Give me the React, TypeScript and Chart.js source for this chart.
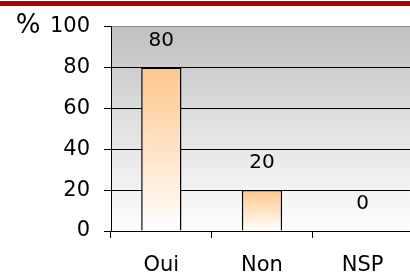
import React, { useEffect, useRef } from "react";
import { Chart, registerables } from "chart.js";
Chart.register(...registerables);

const categories = ["Oui", "Non", "NSP"];
const values = [80, 20, 0];
const yTicks = [0, 20, 40, 60, 80, 100];
const unitLabel = "%";

const FONT = "'DejaVu Sans', sans-serif";

export default function App() {
  const ref = useRef<HTMLCanvasElement>(null);
  useEffect(() => {
    document.body.style.margin = "0";
    document.body.style.overflow = "hidden";
    const canvas = ref.current!;
    const decor = {
      id: "decor",
      beforeDraw(chart: any) {
        const { ctx, chartArea: a } = chart;
        ctx.save();
        ctx.fillStyle = "#fff";
        ctx.fillRect(0, 0, chart.width, chart.height);
        const g = ctx.createLinearGradient(0, a.top, 0, a.bottom);
        g.addColorStop(0, "#c0c0c0");
        g.addColorStop(0.5, "#e2e2e2");
        g.addColorStop(1, "#fdfdfd");
        ctx.fillStyle = g;
        ctx.fillRect(a.left, a.top, chart.width - a.left, a.bottom - a.top);
        ctx.fillStyle = "#b00000";
        ctx.fillRect(0, 1, chart.width, 5);
        ctx.restore();
      },
      afterDraw(chart: any) {
        const { ctx } = chart;
        ctx.save();
        ctx.fillStyle = "#000";
        ctx.textAlign = "center";
        ctx.textBaseline = "middle";
        ctx.font = `26px ${FONT}`;
        ctx.fillText(unitLabel, 28, 26);
        ctx.font = `20px ${FONT}`;
        const meta = chart.getDatasetMeta(0);
        meta.data.forEach((el: any, i: number) => {
          ctx.fillText(String(values[i]), el.x, el.y - 27);
        });
        ctx.restore();
      },
    };
    const chart = new Chart(canvas, {
      type: "bar",
      data: {
        labels: categories,
        datasets: [
          {
            data: values,
            borderColor: "#000",
            borderWidth: 1.5,
            barPercentage: 0.4,
            categoryPercentage: 1,
            backgroundColor: (c: any) => {
              const ch = c.chart;
              const y = ch.scales && ch.scales.y;
              if (!ch.chartArea || !y || c.raw === undefined) return "#ffc990";
              const top = y.getPixelForValue(c.raw);
              const bot = y.getPixelForValue(0);
              if (bot - top < 1) return "#ffffff";
              const g = ch.ctx.createLinearGradient(0, top, 0, bot);
              g.addColorStop(0, "#ffc78c");
              g.addColorStop(1, "#ffffff");
              return g;
            },
          },
        ],
      },
      options: {
        responsive: false,
        devicePixelRatio: 1,
        animation: false,
        layout: { padding: { top: 25, right: 7, left: 0, bottom: 0 } },
        plugins: { legend: { display: false }, tooltip: { enabled: false } },
        scales: {
          x: {
            grid: { drawOnChartArea: false, tickLength: 7, color: "#000", offset: true },
            border: { color: "#000", width: 1 },
            ticks: { font: { family: FONT, size: 21 }, color: "#000", padding: 15 },
            afterFit: (s: any) => {
              s.height = 44;
            },
          },
          y: {
            min: 0,
            max: 100,
            afterBuildTicks: (s: any) => {
              s.ticks = yTicks.map((v) => ({ value: v }));
            },
            ticks: { font: { family: FONT, size: 21 }, color: "#000", padding: 14 },
            grid: {
              color: (c: any) => (c.tick && c.tick.value === 100 ? "#8c8c8c" : "#000"),
              tickColor: "#000",
              tickLength: 7,
              lineWidth: 1,
            },
            border: { color: "#000", width: 1 },
            afterFit: (s: any) => {
              s.width = 111;
            },
          },
        },
      },
      plugins: [decor],
    });
    return () => chart.destroy();
  }, []);
  return (
    <canvas
      ref={ref}
      width={420}
      height={275}
      style={{ display: "block", width: "420px", height: "275px" }}
    />
  );
}
